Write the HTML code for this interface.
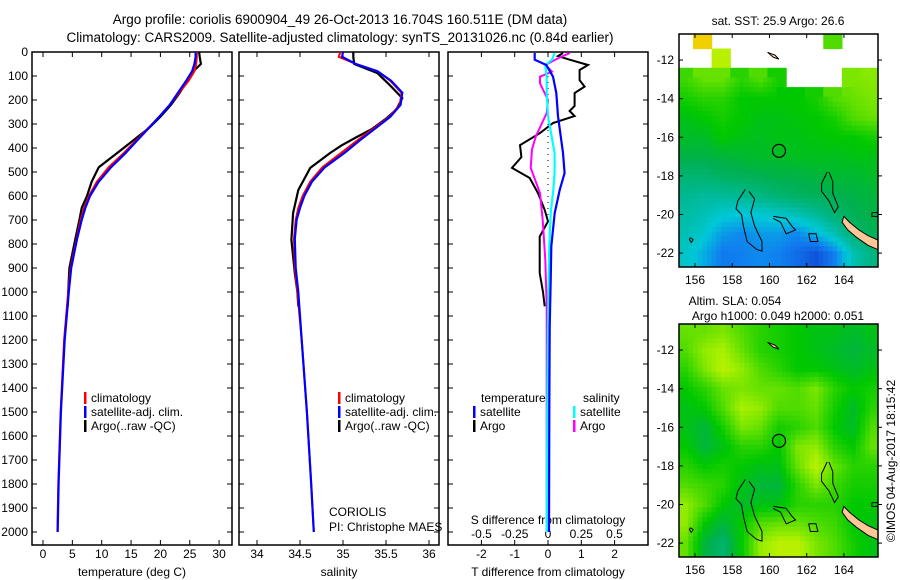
<!DOCTYPE html>
<html><head><meta charset="utf-8">
<style>
html,body{margin:0;padding:0;background:#fff;}
svg{display:block;font-family:"Liberation Sans",sans-serif;}
</style></head>
<body>
<svg id="chart" width="900" height="580" viewBox="0 0 900 580"></svg>
<script>
// ---------- data ----------
const depthClim = [0,20,50,80,120,170,220,270,320,370,420,480,540,600,650,700,780,900,1000,1200,1500,1800,2000];
const tempClim = [26.2,26.2,26.1,25.8,24.8,23.2,21.6,19.8,17.8,15.8,13.8,11.2,9.2,7.8,7.0,6.4,5.7,4.7,4.3,3.6,3.0,2.6,2.45];
const tempSat = [26.0,26.0,25.8,25.4,24.4,23.0,21.6,19.8,17.9,16.0,14.1,11.6,9.5,8.0,7.2,6.6,5.8,4.8,4.4,3.7,3.05,2.65,2.5];
const depthArgoT = [0,20,50,80,120,170,220,270,320,370,420,480,540,600,650,700,780,900,1000,1060];
const tempArgo = [26.6,26.7,26.9,25.6,24.5,23.3,21.8,20.0,17.9,15.3,12.7,9.5,8.3,7.5,6.6,6.2,5.5,4.5,4.3,4.2];
const salClim = [34.97,34.95,35.15,35.40,35.55,35.68,35.66,35.54,35.35,35.16,34.98,34.76,34.62,34.53,34.48,34.45,34.43,34.44,34.47,34.52,34.58,34.63,34.66];
const salSat = [35.0,34.99,35.15,35.40,35.56,35.69,35.67,35.55,35.37,35.19,35.02,34.79,34.64,34.55,34.5,34.46,34.44,34.45,34.48,34.52,34.58,34.63,34.66];
const depthArgoS = [0,20,50,88,140,192,240,275,320,354,390,421,483,575,671,783,921,1000,1060];
const salArgo = [35.12,35.12,35.13,35.40,35.55,35.69,35.62,35.51,35.34,35.16,34.98,34.85,34.62,34.48,34.42,34.40,34.44,34.47,34.48];
const diffDepthArgoT = [4,17,30,54,75,117,144,171,225,246,267,296,338,388,438,483,525,588,658,706,769,838,921,1000,1060];
const diffTArgo = [0.45,0.3,0.6,1.2,0.95,0.95,1.1,0.8,0.8,0.65,0.8,0.15,-0.24,-0.84,-0.8,-1.08,-0.55,-0.3,-0.1,0,-0.25,-0.25,-0.25,-0.15,-0.1];
const diffDepthArgoS = [4,25,54,82,103,131,200,254,350,405,483,588,700,866,1060,2000];
const diffSArgo = [0.165,0.08,-0.02,0.03,-0.06,-0.06,0,-0.01,-0.09,-0.12,-0.13,-0.06,-0.04,-0.02,-0.01,-0.01];
const diffDepthSat = [4,32,54,103,171,267,421,504,575,671,810,950,1144,1500,2000];
const diffTSat = [-0.4,-0.4,-0.05,0.15,0.25,0.3,0.45,0.5,0.35,0.2,0.1,0.08,0.05,0.04,0.03];
const diffSSat = [0.05,0.03,-0.02,-0.01,-0.01,0.0,0.05,0.05,0.04,0.02,0.01,0.005,0,-0.005,-0.01];
const depthTicks = [0,100,200,300,400,500,600,700,800,900,1000,1100,1200,1300,1400,1500,1600,1700,1800,1900,2000];
const tempTicks = [0,5,10,15,20,25,30];
const salTicks = [34,34.5,35,35.5,36];
const salTickLabels = ["34","34.5","35","35.5","36"];
const tDiffTicks = [-2,-1,0,1,2];
const sDiffTicks = [-0.5,-0.25,0,0.25,0.5];
const sDiffTickLabels = ["-0.5","-0.25","0","0.25","0.5"];
const lonTicks = [156,158,160,162,164];
const latTicks = [-12,-14,-16,-18,-20,-22];
const gridLats = [-11,-12,-13,-14,-15,-16,-17,-18,-19,-20,-21,-22];
const gridLons = [155.5,156.5,157.5,158.5,159.5,160.5,161.5,162.5,163.5,164.5,165.5];
const sstGrid = [
[-1,0.92,-1,-1,-1,-1,-1,-1,0.7,-1,-1],
[-1,-1,0.8,-1,-1,-1,-1,-1,-1,-1,-1],
[0.68,0.72,0.72,0.66,0.7,0.64,-1,-1,-1,0.74,0.75],
[0.64,0.66,0.66,0.62,0.62,0.62,0.62,0.64,0.7,0.72,0.74],
[0.6,0.62,0.64,0.62,0.6,0.6,0.61,0.62,0.64,0.7,0.72],
[0.58,0.58,0.62,0.6,0.59,0.6,0.6,0.61,0.62,0.62,0.64],
[0.55,0.55,0.56,0.57,0.58,0.58,0.59,0.59,0.59,0.6,0.6],
[0.5,0.5,0.52,0.53,0.54,0.55,0.55,0.56,0.57,0.57,0.58],
[0.46,0.45,0.45,0.46,0.48,0.5,0.52,0.53,0.54,0.55,0.56],
[0.44,0.42,0.39,0.38,0.39,0.4,0.42,0.45,0.5,0.53,0.55],
[0.42,0.39,0.33,0.31,0.33,0.33,0.31,0.36,0.42,0.5,0.53],
[0.4,0.35,0.29,0.3,0.31,0.3,0.27,0.23,0.3,0.42,0.48]];
const slaGrid = [
[0.72,0.72,0.74,0.7,0.66,0.64,0.62,0.6,0.6,0.58,0.6],
[0.7,0.76,0.78,0.72,0.66,0.64,0.62,0.6,0.58,0.56,0.58],
[0.66,0.74,0.8,0.76,0.7,0.66,0.62,0.62,0.6,0.58,0.6],
[0.62,0.66,0.72,0.74,0.72,0.72,0.7,0.74,0.66,0.62,0.64],
[0.6,0.62,0.7,0.78,0.76,0.7,0.7,0.72,0.64,0.58,0.66],
[0.6,0.56,0.64,0.74,0.72,0.64,0.66,0.7,0.62,0.58,0.7],
[0.62,0.56,0.6,0.66,0.66,0.62,0.74,0.76,0.66,0.62,0.72],
[0.66,0.62,0.64,0.62,0.6,0.6,0.72,0.8,0.72,0.66,0.66],
[0.7,0.68,0.66,0.6,0.56,0.56,0.66,0.74,0.68,0.64,0.64],
[0.76,0.7,0.62,0.58,0.6,0.6,0.66,0.66,0.66,0.62,0.62],
[0.76,0.62,0.56,0.62,0.7,0.72,0.72,0.7,0.68,0.62,0.6],
[0.72,0.56,0.5,0.62,0.76,0.8,0.8,0.74,0.7,0.64,0.6]];
const argoLon = 160.511, argoLat = -16.704;

// ---------- helpers ----------
const NS = "http://www.w3.org/2000/svg";
const svg = document.getElementById("chart");
function mk(tag, attrs, parent){const e=document.createElementNS(NS,tag);for(const k in attrs)e.setAttribute(k,attrs[k]);(parent||svg).appendChild(e);return e;}
function txt(x,y,s,anchor,size,parent){const t=mk("text",{x:x,y:y,"text-anchor":anchor||"middle","font-size":size||12,fill:"#000"},parent);t.textContent=s;return t;}

const Y0=52, PX_PER_M=0.24, FRAME_TOP=52, FRAME_BOT=545;
const yD = d => Y0 + d*PX_PER_M;
const xT = v => 43 + v*5.87;
const xS = v => 257 + (v-34)*86;
const xTd = v => 548 + v*33.3;
const xSd = v => 548 + v*133;

function poly(xs, ds, xf, color, w, name){
  const pts = xs.map((v,i)=>xf(v).toFixed(1)+","+yD(ds[i]).toFixed(1)).join(" ");
  const p = mk("polyline",{points:pts,fill:"none",stroke:color,"stroke-width":w||2,"stroke-linejoin":"miter"});
  
  
  return p;
}

// ---------- titles ----------
let t = txt(340,24,"Argo profile: coriolis 6900904_49 26-Oct-2013 16.704S 160.511E (DM data)","middle",13.5);


t = txt(340,42,"Climatology: CARS2009. Satellite-adjusted climatology: synTS_20131026.nc (0.84d earlier)","middle",13.5);



// ---------- panel frames ----------
const panels = [{x0:32,x1:232,name:"temperature-panel"},{x0:239,x1:439,name:"salinity-panel"},{x0:448,x1:648,name:"difference-panel"}];
panels.forEach(p=>{
  const r = mk("rect",{x:p.x0,y:FRAME_TOP,width:p.x1-p.x0,height:FRAME_BOT-FRAME_TOP,fill:"#fff",stroke:"#000","stroke-width":1.5});
  
  
  depthTicks.forEach(d=>{
    const y=yD(d);
    mk("line",{x1:p.x0,y1:y,x2:p.x0+5,y2:y,stroke:"#000","stroke-width":1});
    mk("line",{x1:p.x1,y1:y,x2:p.x1-5,y2:y,stroke:"#000","stroke-width":1});
  });
});
depthTicks.forEach(d=>{
  const l = txt(28,yD(d)+4,String(d),"end",12);
  
  
});

function xTicks(ticks, labels, xf, ylab, name){
  ticks.forEach((v,i)=>{
    const x=xf(v);
    mk("line",{x1:x,y1:FRAME_TOP,x2:x,y2:FRAME_TOP+5,stroke:"#000","stroke-width":1});
    mk("line",{x1:x,y1:FRAME_BOT,x2:x,y2:FRAME_BOT-5,stroke:"#000","stroke-width":1});
    const l = txt(x,ylab,labels[i],"middle",12);
    
    
  });
}
xTicks(tempTicks, tempTicks.map(String), xT, 558, 'temperature-tick-label');
xTicks(salTicks, salTickLabels, xS, 558, 'salinity-tick-label');
xTicks(tDiffTicks, tDiffTicks.map(String), xTd, 558, 't-diff-tick-label');
sDiffTicks.forEach((v,i)=>{
  const l = txt(xSd(v),538,sDiffTickLabels[i],"middle",12);
  
  
});
t = txt(132,576,"temperature (deg C)","middle",12);  
t = txt(339,576,"salinity","middle",12);  
t = txt(548,576,"T difference from climatology","middle",12);  
t = txt(548,524,"S difference from climatology","middle",12);  

// ---------- series ----------
poly(tempArgo, depthArgoT, xT, "#000", 2.2, 'temp-argo-line');
poly(tempClim, depthClim, xT, "#f00", 2, 'temp-climatology-line');
poly(tempSat, depthClim, xT, "#00f", 2.2, 'temp-satellite-line');
poly(salArgo, depthArgoS, xS, "#000", 2.2, 'sal-argo-line');
poly(salClim, depthClim, xS, "#f00", 2, 'sal-climatology-line');
poly(salSat, depthClim, xS, "#00f", 2.2, 'sal-satellite-line');
const zl = mk("line",{x1:xTd(0),y1:yD(100),x2:xTd(0),y2:yD(700),stroke:"#000","stroke-width":1,"stroke-dasharray":"1,5"});


poly(diffTArgo, diffDepthArgoT, xTd, "#000", 2, 'tdiff-argo-line');
poly(diffSArgo, diffDepthArgoS, xSd, "#f0f", 2, 'sdiff-argo-line');
poly(diffSSat, diffDepthSat, xSd, "#0ff", 2.2, 'sdiff-satellite-line');
poly(diffTSat, diffDepthSat, xTd, "#00f", 2.2, 'tdiff-satellite-line');

// ---------- legends ----------
function legend(x,y,color,label,name){
  const b = mk("rect",{x:x,y:y-10,width:2.5,height:12,fill:color});
  
  
  const l = txt(x+7,y,label,"start",12);
  
  
}
legend(84,402,"#f00","climatology","legend-temp-climatology");
legend(84,416,"#00f","satellite-adj. clim.","legend-temp-satellite");
legend(84,430,"#000","Argo(..raw -QC)","legend-temp-argo");
legend(338,402,"#f00","climatology","legend-sal-climatology");
legend(338,416,"#00f","satellite-adj. clim.","legend-sal-satellite");
legend(338,430,"#000","Argo(..raw -QC)","legend-sal-argo");
t = txt(481,402,"temperature","start",12);  
t = txt(583,402,"salinity","start",12);  
legend(473,416,"#00f","satellite","legend-tdiff-satellite");
legend(473,430,"#000","Argo","legend-tdiff-argo");
legend(573,416,"#0ff","satellite","legend-sdiff-satellite");
legend(573,430,"#f0f","Argo","legend-sdiff-argo");
t = txt(329,516,"CORIOLIS","start",12);  
t = txt(329,531,"PI: Christophe MAES","start",12);  

// ---------- maps ----------
const stops=[[0.2,[16,64,208]],[0.3,[16,128,240]],[0.38,[0,200,216]],[0.46,[0,184,144]],[0.54,[0,176,80]],[0.62,[0,200,0]],[0.7,[80,220,0]],[0.78,[168,240,0]],[0.86,[232,240,0]],[0.92,[240,208,0]],[1.0,[240,112,0]]];
function cmap(v){
  if(v<=stops[0][0])return "rgb("+stops[0][1].join(",")+")";
  for(let i=1;i<stops.length;i++){if(v<=stops[i][0]){const a=stops[i-1],b=stops[i];const f=(v-a[0])/(b[0]-a[0]);return "rgb("+a[1].map((c,k)=>Math.round(c+(b[1][k]-c)*f)).join(",")+")";}}
  return "rgb("+stops[stops.length-1][1].join(",")+")";
}
function sample(grid, lon, lat){
  let fi=(-11-lat), fj=(lon-155.5);
  fi=Math.max(0,Math.min(gridLats.length-1.0001,fi)); fj=Math.max(0,Math.min(gridLons.length-1.0001,fj));
  const ni=Math.round(fi), nj=Math.round(fj);
  if(grid[ni][nj]<0)return -1;
  const i0=Math.floor(fi),j0=Math.floor(fj),di=fi-i0,dj=fj-j0;
  const v=[grid[i0][j0],grid[i0][j0+1],grid[i0+1][j0],grid[i0+1][j0+1]];
  if(v.some(q=>q<0))return grid[ni][nj];
  return v[0]*(1-di)*(1-dj)+v[1]*(1-di)*dj+v[2]*di*(1-dj)+v[3]*di*dj;
}
const defs = mk("defs",{});
const LON0=155.14, LON1=165.83, LAT0=-10.65, LAT1=-22.72;
function drawMap(y0, grid, name, title1, title2){
  const X0=679,X1=878,Y1=y0+233;
  const lx = lon => X0+(lon-LON0)/(LON1-LON0)*(X1-X0);
  const ly = lat => y0+(lat-LAT0)/(LAT1-LAT0)*(Y1-y0);
  const cp = mk("clipPath",{id:name+"-clip"},defs);
  mk("rect",{x:X0,y:y0,width:X1-X0,height:Y1-y0},cp);
  const g = mk("g",{});
  
  
  const inner = mk("g",{"clip-path":"url(#"+name+"-clip)"},g);
  mk("rect",{x:X0,y:y0,width:X1-X0,height:Y1-y0,fill:"#fff"},inner);
  const step=0.25;
  for(let lat=LAT0; lat>LAT1; lat-=step){
    for(let lon=LON0; lon<LON1; lon+=step){
      const v=sample(grid, lon+step/2, lat-step/2);
      if(v<0)continue;
      const c = mk("rect",{x:lx(lon).toFixed(1),y:ly(lat).toFixed(1),width:(lx(lon+step)-lx(lon)+0.6).toFixed(1),height:(ly(lat-step)-ly(lat)+0.6).toFixed(1),fill:cmap(v)},inner);
      
      
    }
  }
  const land=[[164.0,-20.1],[164.3,-20.4],[164.8,-20.8],[165.3,-21.1],[165.9,-21.35],[165.9,-21.85],[165.3,-21.6],[164.7,-21.2],[164.2,-20.8],[163.9,-20.4]];
  const lp = mk("polygon",{points:land.map(p=>lx(p[0]).toFixed(1)+","+ly(p[1]).toFixed(1)).join(" "),fill:"#ffc896",stroke:"#000","stroke-width":1},inner);
  
  
  const isl = mk("polygon",{points:[[159.9,-11.6],[160.3,-11.75],[160.5,-11.95],[160.2,-11.85]].map(p=>lx(p[0]).toFixed(1)+","+ly(p[1]).toFixed(1)).join(" "),fill:"#ffc896",stroke:"#000","stroke-width":1},inner);
  
  
  const reefs=[
    [[158.7,-18.7],[158.3,-19.3],[158.2,-19.7],[158.5,-20.0],[158.6,-20.6],[158.8,-21.4],[159.3,-21.8],[159.6,-21.9],[159.6,-21.4],[159.2,-20.6],[159.0,-19.9],[159.2,-19.2],[158.9,-18.8]],
    [[163.1,-17.8],[162.8,-18.4],[162.8,-18.8],[163.2,-19.3],[163.5,-19.9],[163.7,-19.6],[163.4,-18.9],[163.4,-18.3],[163.2,-17.8]],
    [[160.2,-20.1],[160.9,-20.2],[161.2,-20.6],[161.4,-20.8],[160.9,-21.0],[160.6,-20.4],[160.2,-20.2]],
    [[162.1,-21.0],[162.5,-21.0],[162.6,-21.4],[162.2,-21.4],[162.1,-21.0]],
    [[155.75,-21.2],[155.9,-21.3],[155.8,-21.45],[155.7,-21.3],[155.75,-21.2]],
    [[165.5,-19.9],[165.9,-19.9],[165.9,-20.1],[165.5,-20.1],[165.5,-19.9]]];
  reefs.forEach(r=>{
    const p = mk("polyline",{points:r.map(q=>lx(q[0]).toFixed(1)+","+ly(q[1]).toFixed(1)).join(" "),fill:"none",stroke:"#000","stroke-width":1},inner);
    
    
  });
  const ci = mk("circle",{cx:lx(argoLon),cy:ly(argoLat),r:6.5,fill:"none",stroke:"#000","stroke-width":1.2},g);
  
  
  const fr = mk("rect",{x:X0,y:y0,width:X1-X0,height:Y1-y0,fill:"none",stroke:"#000","stroke-width":1.5},g);
  
  
  lonTicks.forEach(v=>{
    const x=lx(v);
    mk("line",{x1:x,y1:y0,x2:x,y2:y0+4,stroke:"#000"},g);
    mk("line",{x1:x,y1:Y1,x2:x,y2:Y1-4,stroke:"#000"},g);
    const l = txt(x,Y1+17,String(v),"middle",12,g);
    
    
  });
  latTicks.forEach(v=>{
    const y=ly(v);
    mk("line",{x1:X0,y1:y,x2:X0+4,y2:y,stroke:"#000"},g);
    mk("line",{x1:X1,y1:y,x2:X1+4,y2:y,stroke:"#000"},g);
    const l = txt(X0-5,y+4,String(v),"end",12,g);
    
    
  });
  if(title2){
    let a=txt(735,y0-19,title1,"middle",12,g);  
    a=txt(778,y0-4,title2,"middle",12,g);  
  } else {
    const a=txt(778,y0-9,title1,"middle",12,g);  
  }
}
drawMap(34, sstGrid, "sst-map", "sat. SST: 25.9 Argo: 26.6");
drawMap(324, slaGrid, "sla-map", "Altim. SLA: 0.054", "Argo h1000: 0.049 h2000: 0.051");
t = mk("text",{x:0,y:0,"font-size":12,"text-anchor":"middle",transform:"translate(895,461) rotate(-90)"});
t.textContent="©IMOS 04-Aug-2017 18:15:42";


</script>
</body></html>
